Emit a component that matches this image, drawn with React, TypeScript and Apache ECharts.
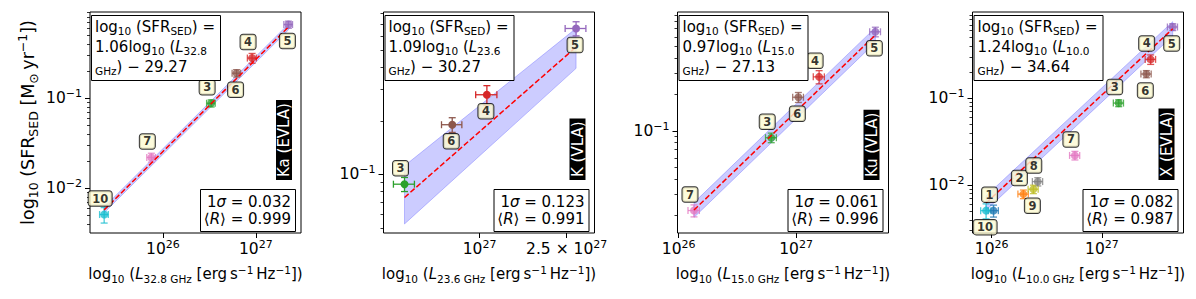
import React, { useEffect, useRef } from "react";
import * as echarts from "echarts";

const FONT = "DejaVu Sans";

// ---------- data ----------
// colours per galaxy id 1..10
const galaxyColors = ["#1f77b4", "#ff7f0e", "#2ca02c", "#d62728", "#9467bd", "#8c564b", "#e377c2", "#7f7f7f", "#bcbd22", "#17becf"];

// SFR_SED per galaxy id 1..10 [Msun / yr]
const sfrSed = [0.0051, 0.0079, 0.088, 0.28, 0.66, 0.19, 0.022, 0.011, 0.009, 0.0051];
const sfrSedErr = [0.0008, 0.0009, 0.008, 0.035, 0.06, 0.018, 0.0025, 0.0012, 0.001, 0.001];

// Ka band, 32.8 GHz
const kaIds = [10, 7, 3, 6, 4, 5];
const kaLum = [2.33e25, 7.5e25, 3.3e26, 6.2e26, 9.1e26, 2.24e27];
const kaLumErr = [2.5e24, 8e24, 3.5e25, 6.5e25, 1.0e26, 2.4e26];
const kaLabelSide = ["up", "up", "up", "down", "up", "down"];
const kaFitLum = [2.33e25, 2.24e27];
const kaFitSfr = [0.00575, 0.619];
const kaBandHi = [0.00619, 0.667];
const kaBandLo = [0.00535, 0.575];
const kaXRange = [1.64e25, 3.06e27];
const kaYRange = [0.00318, 0.91];
const kaXTicks = [1e26, 1e27];
const kaYTicks = [0.01, 0.1];

// K band, 23.6 GHz
const kIds = [3, 6, 4, 5];
const kLum = [4.54e26, 7.5e26, 1.08e27, 2.76e27];
const kLumErr = [5e25, 8e25, 1.2e26, 3.0e26];
const kLabelSide = ["up", "down", "down", "down"];
const kFitLum = [4.54e26, 2.76e27];
const kFitSfr = [0.0741, 0.519];
const kBandHi = [0.1117, 0.661];
const kBandLo = [0.0526, 0.394];
const kXRange = [3.64e26, 3.35e27];
const kYRange = [0.0468, 0.817];
const kXTicks = [1e27, 2.5e27];
const kYTicks = [0.1];

// Ku band, 15.0 GHz
const kuIds = [7, 3, 6, 4, 5];
const kuLum = [1.35e26, 6.14e26, 1.045e27, 1.57e27, 4.73e27];
const kuLumErr = [1.5e25, 6.5e25, 1.1e26, 1.7e26, 5.0e26];
const kuLabelSide = ["up", "up", "down", "up", "down"];
const kuFitLum = [1.35e26, 4.73e27];
const kuFitSfr = [0.0222, 0.621];
const kuBandHi = [0.0256, 0.7145];
const kuBandLo = [0.0193, 0.5395];
const kuXRange = [9.77e25, 6.12e27];
const kuYRange = [0.01435, 0.962];
const kuXTicks = [1e26, 1e27];
const kuYTicks = [0.1];

// X band, 10.0 GHz
const xIds = [1, 2, 3, 4, 5, 6, 7, 8, 9, 10];
const xLum = [1.04e26, 1.94e26, 1.42e27, 2.77e27, 4.39e27, 2.53e27, 5.69e26, 2.62e26, 2.39e26, 8.9e25];
const xLumErr = [1.1e25, 2.1e25, 1.5e26, 3.0e26, 4.6e26, 2.7e26, 6.0e25, 2.8e25, 2.5e25, 9.5e24];
const xLabelSide = ["up", "up", "up", "up", "down", "down", "up", "up", "down", "down"];
const xFitLum = [8.9e25, 4.39e27];
const xFitSfr = [0.00624, 0.6295];
const xBandHi = [0.00753, 0.76];
const xBandLo = [0.00516, 0.521];
const xXRange = [6.7e25, 5.5e27];
const xYRange = [0.00282, 0.982];
const xXTicks = [1e26, 1e27];
const xYTicks = [0.01, 0.1];

const bandNames = ["Ka (EVLA)", "K (VLA)", "Ku (VLA)", "X (EVLA)"];
const freqs = ["32.8", "23.6", "15.0", "10.0"];
const slopes = ["1.06", "1.09", "0.97", "1.24"];
const intercepts = ["29.27", "30.27", "27.13", "34.64"];
const sigmas = ["0.032", "0.123", "0.061", "0.082"];
const corrR = ["0.999", "0.991", "0.996", "0.987"];

// ---------- layout ----------
const GRID_LEFTS = [90, 383.5, 677.5, 972.5];
const GW = 211;
const GT = 12;
const GH = 221;
const FADED = [0.78, 1, 0.78, 0.78];

const panels = [
  { ids: kaIds, lum: kaLum, lumErr: kaLumErr, side: kaLabelSide, fitLum: kaFitLum, fitSfr: kaFitSfr, bandHi: kaBandHi, bandLo: kaBandLo, xRange: kaXRange, yRange: kaYRange, xTicks: kaXTicks, yTicks: kaYTicks },
  { ids: kIds, lum: kLum, lumErr: kLumErr, side: kLabelSide, fitLum: kFitLum, fitSfr: kFitSfr, bandHi: kBandHi, bandLo: kBandLo, xRange: kXRange, yRange: kYRange, xTicks: kXTicks, yTicks: kYTicks },
  { ids: kuIds, lum: kuLum, lumErr: kuLumErr, side: kuLabelSide, fitLum: kuFitLum, fitSfr: kuFitSfr, bandHi: kuBandHi, bandLo: kuBandLo, xRange: kuXRange, yRange: kuYRange, xTicks: kuXTicks, yTicks: kuYTicks },
  { ids: xIds, lum: xLum, lumErr: xLumErr, side: xLabelSide, fitLum: xFitLum, fitSfr: xFitSfr, bandHi: xBandHi, bandLo: xBandLo, xRange: xXRange, yRange: xYRange, xTicks: xXTicks, yTicks: xYTicks },
];

function fmtPow(v: number) {
  const e = Math.floor(Math.log10(v) + 1e-9);
  const m = Math.round((v / Math.pow(10, e)) * 100) / 100;
  const es = e < 0 ? "\u2212" + -e : String(e);
  return m === 1 ? `{b|10}{s|${es}}` : `{b|${m} \u00d7 10}{s|${es}}`;
}

function minorTicks(range: number[]) {
  const out: number[] = [];
  const e0 = Math.floor(Math.log10(range[0]));
  const e1 = Math.ceil(Math.log10(range[1]));
  for (let e = e0; e <= e1; e++) {
    for (let m = 2; m <= 9; m++) {
      const v = m * Math.pow(10, e);
      if (v >= range[0] && v <= range[1]) out.push(v);
    }
  }
  return out;
}

const cBase = { fontFamily: FONT, color: "#000" };
const tickRich = {
  b: { ...cBase, fontSize: 15.5, lineHeight: 20 },
  s: { ...cBase, fontSize: 11, verticalAlign: "top" },
};
const xNameRich = {
  t: { ...cBase, fontSize: 15, lineHeight: 20 },
  it: { ...cBase, fontSize: 15, lineHeight: 20, fontStyle: "italic" },
  sb: { ...cBase, fontSize: 10.5, verticalAlign: "bottom" },
  sp: { ...cBase, fontSize: 10.5, verticalAlign: "top" },
};
const yNameRich = {
  t: { ...cBase, fontSize: 17.5, lineHeight: 24 },
  sb: { ...cBase, fontSize: 12.5, verticalAlign: "bottom" },
  sp: { ...cBase, fontSize: 12.5, verticalAlign: "top" },
};
const gBase = { fontFamily: FONT, fill: "#000" };
const gRich = {
  t: { ...gBase, fontSize: 15, lineHeight: 20 },
  it: { ...gBase, fontSize: 15, lineHeight: 20, fontStyle: "italic" },
  sb: { ...gBase, fontSize: 10.5, verticalAlign: "bottom" },
};
const gRichStats = {
  t: { ...gBase, fontSize: 15, lineHeight: 16.5 },
  it: { ...gBase, fontSize: 15, lineHeight: 16.5, fontStyle: "italic" },
};

const xName = (f: string) =>
  `{t|log}{sb|10}{t| (}{it|L}{sb|${f} GHz}{t| [erg\u2009s}{sp|\u22121}{t|\u2009Hz}{sp|\u22121}{t|])}`;
const yName = `{t|log}{sb|10}{t| (SFR}{sb|SED}{t| [M}{sb|\u2299}{t|\u2009yr}{sp|\u22121}{t|])}`;
const eqText = (s: string, f: string, c: string) =>
  `{t|log}{sb|10}{t| (SFR}{sb|SED}{t|) =}\n{t|${s}log}{sb|10}{t| (}{it|L}{sb|${f}}\n{sb|GHz}{t|) \u2212 ${c}}`;
const statText = (sg: string, r: string) => `{t|1}{it|\u03c3}{t| = ${sg}}\n{t|\u27e8}{it|R}{t|\u27e9 = ${r}}`;

function buildOption() {
  const grid: any[] = [];
  const xAxis: any[] = [];
  const yMain: any[] = [];
  const yMinor: any[] = [];
  const series: any[] = [];
  const graphic: any[] = [];

  panels.forEach((p, i) => {
    const gl = GRID_LEFTS[i];
    const gr = gl + GW;
    const op = FADED[i];
    grid.push({ left: gl, top: GT, width: GW, height: GH, show: true, borderColor: "#000", borderWidth: 1, backgroundColor: "transparent", containLabel: false, outerBoundsMode: "none" });
    xAxis.push({
      type: "log", logBase: 10, gridIndex: i, position: "bottom", min: p.xRange[0], max: p.xRange[1],
      axisLine: { show: false }, splitLine: { show: false },
      axisTick: { show: true, customValues: p.xTicks, length: 5, lineStyle: { color: "#000", width: 1 } },
      axisLabel: { show: true, customValues: p.xTicks, margin: 6, color: "#000", formatter: fmtPow, rich: tickRich },
      name: xName(freqs[i]), nameLocation: "middle", nameGap: 31, nameTextStyle: { rich: xNameRich },
    });
    const ym: any = {
      type: "log", logBase: 10, gridIndex: i, position: "left", min: p.yRange[0], max: p.yRange[1],
      axisLine: { show: false }, splitLine: { show: false },
      axisTick: { show: true, customValues: p.yTicks, length: 5, lineStyle: { color: "#000", width: 1 } },
      axisLabel: { show: true, customValues: p.yTicks, margin: 8, color: "#000", formatter: fmtPow, rich: tickRich },
    };
    if (i === 0) {
      Object.assign(ym, { name: yName, nameLocation: "middle", nameGap: 50, nameRotate: 90, nameTextStyle: { rich: yNameRich } });
    }
    yMain.push(ym);
    yMinor.push({
      type: "log", logBase: 10, gridIndex: i, position: "left", min: p.yRange[0], max: p.yRange[1],
      axisLine: { show: false }, splitLine: { show: false }, axisLabel: { show: false },
      axisTick: { show: true, customValues: minorTicks(p.yRange), length: 3, lineStyle: { color: "#000", width: 0.8 } },
    });

    // shaded band
    series.push({
      type: "custom", xAxisIndex: i, yAxisIndex: i, z: 1, silent: true,
      data: [[p.fitLum[0], p.fitSfr[0]]], encode: { x: 0, y: 1 },
      renderItem: (_params: any, api: any) => {
        const pts = [
          api.coord([p.fitLum[0], p.bandHi[0]]),
          api.coord([p.fitLum[1], p.bandHi[1]]),
          api.coord([p.fitLum[1], p.bandLo[1]]),
          api.coord([p.fitLum[0], p.bandLo[0]]),
        ];
        return { type: "polygon", shape: { points: pts }, style: { fill: "rgba(0,0,255,0.2)", stroke: "rgba(0,0,255,0.22)", lineWidth: 1 } };
      },
    });
    // error bars
    series.push({
      type: "custom", xAxisIndex: i, yAxisIndex: i, z: 3, silent: true,
      data: p.ids.map((id, k) => [p.lum[k], sfrSed[id - 1]]), encode: { x: 0, y: 1 },
      renderItem: (params: any, api: any) => {
        const k = params.dataIndex;
        const id = p.ids[k];
        const x = p.lum[k], y = sfrSed[id - 1], ex = p.lumErr[k], ey = sfrSedErr[id - 1];
        const l = api.coord([x - ex, y]), r = api.coord([x + ex, y]);
        const t = api.coord([x, y + ey]), b = api.coord([x, y - ey]);
        const st = { stroke: galaxyColors[id - 1], lineWidth: 1.3, opacity: op };
        const cap = 3.5;
        const ln = (x1: number, y1: number, x2: number, y2: number) => ({ type: "line", shape: { x1, y1, x2, y2 }, style: st });
        return {
          type: "group",
          children: [
            ln(l[0], l[1], r[0], r[1]), ln(t[0], t[1], b[0], b[1]),
            ln(l[0], l[1] - cap, l[0], l[1] + cap), ln(r[0], r[1] - cap, r[0], r[1] + cap),
            ln(t[0] - cap, t[1], t[0] + cap, t[1]), ln(b[0] - cap, b[1], b[0] + cap, b[1]),
          ],
        };
      },
    });
    // points
    series.push({
      type: "scatter", xAxisIndex: i, yAxisIndex: i, z: 4, symbol: "circle", symbolSize: 8, silent: true,
      data: p.ids.map((id, k) => ({ value: [p.lum[k], sfrSed[id - 1]], itemStyle: { color: galaxyColors[id - 1], opacity: op } })),
    });
    // fit line
    series.push({
      type: "line", xAxisIndex: i, yAxisIndex: i, z: 5, silent: true, symbol: "none",
      data: [[p.fitLum[0], p.fitSfr[0]], [p.fitLum[1], p.fitSfr[1]]],
      lineStyle: { color: "#ff0000", width: 1.5, type: [5.5, 2.4] },
    });
    // id labels
    series.push({
      type: "scatter", xAxisIndex: i, yAxisIndex: i, z: 6, symbolSize: 1, silent: true,
      itemStyle: { color: "transparent" },
      data: p.ids.map((id, k) => ({
        name: String(id), value: [p.lum[k], sfrSed[id - 1]],
        label: { offset: p.side[k] === "up" ? [-4, -16] : [-1, 16.5] },
      })),
      label: {
        show: true, position: "inside", formatter: "{b}", fontFamily: FONT, fontWeight: "bold", fontSize: 11.5,
        lineHeight: 11.5, color: "#000", backgroundColor: "#fdfad2", borderColor: "#000", borderWidth: 1,
        borderRadius: 2.5, padding: [2, 3.5, 1, 3.5],
      },
    });

    // text boxes
    graphic.push({ type: "rect", z: 100, shape: { x: gl + 1.5, y: 15.5, width: 129, height: 65 }, style: { fill: "#fff", stroke: "#000", lineWidth: 1 } });
    graphic.push({ type: "text", z: 101, x: gl + 5, y: 16.5, style: { text: eqText(slopes[i], freqs[i], intercepts[i]), rich: gRich, align: "left", verticalAlign: "top" } });
    graphic.push({ type: "rect", z: 100, shape: { x: gr - 100.5, y: 189.5, width: 95, height: 42 }, style: { fill: "#fff", stroke: "#000", lineWidth: 1 } });
    graphic.push({ type: "text", z: 101, x: gr - 10, y: 194, style: { text: statText(sigmas[i], corrR[i]), rich: gRichStats, align: "right", verticalAlign: "top" } });
    graphic.push({
      type: "text", z: 101, x: gr - 17, y: 180, rotation: Math.PI / 2,
      style: { text: bandNames[i], fill: "#fff", backgroundColor: "#000", padding: [1, 3, 0, 3], fontSize: 15, lineHeight: 15, fontFamily: FONT, align: "left", verticalAlign: "middle" },
    });
  });

  return {
    animation: false,
    backgroundColor: "#fff",
    grid,
    xAxis,
    yAxis: [...yMain, ...yMinor],
    series,
    graphic,
  };
}

export default function App() {
  const ref = useRef<HTMLDivElement>(null);
  useEffect(() => {
    document.body.style.margin = "0";
    const chart = echarts.init(ref.current as HTMLDivElement, undefined, { renderer: "svg" });
    chart.setOption(buildOption() as any);
    return () => chart.dispose();
  }, []);
  return <div ref={ref} style={{ width: 1196, height: 299 }} />;
}
